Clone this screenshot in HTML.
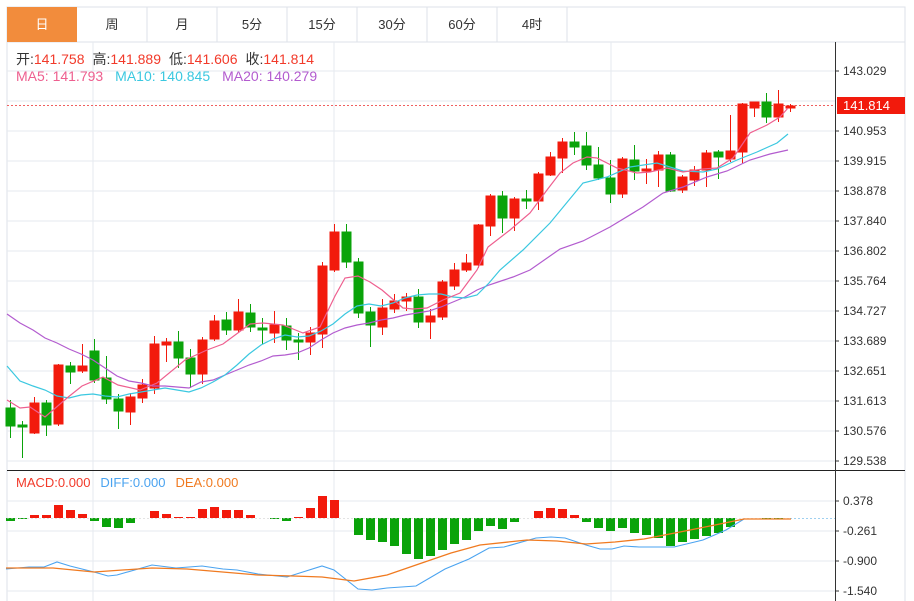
<!DOCTYPE html>
<html><head><meta charset="utf-8"><style>
body{margin:0;background:#fff;width:914px;height:601px;overflow:hidden;font-family:"Liberation Sans","Noto Sans CJK SC",sans-serif}
svg{position:absolute;left:0;top:0}
text{font-family:"Liberation Sans","Noto Sans CJK SC",sans-serif;font-size:12px}
</style></head><body>
<svg width="914" height="601" viewBox="0 0 914 601">
<rect x="7" y="7" width="898" height="35" fill="#fff" stroke="#dde2e8"/>
<rect x="7" y="7" width="70" height="35" fill="#f28c3c"/>
<g stroke="#dde2e8"><line x1="147" y1="7" x2="147" y2="42"/><line x1="217" y1="7" x2="217" y2="42"/><line x1="287" y1="7" x2="287" y2="42"/><line x1="357" y1="7" x2="357" y2="42"/><line x1="427" y1="7" x2="427" y2="42"/><line x1="497" y1="7" x2="497" y2="42"/><line x1="567" y1="7" x2="567" y2="42"/></g>
<g text-anchor="middle" style="font-size:13px" fill="#333"><text x="42" y="29" fill="#fff" style="font-size:13px">日</text><text x="112" y="29" style="font-size:13px">周</text><text x="182" y="29" style="font-size:13px">月</text><text x="252" y="29" style="font-size:13px">5分</text><text x="322" y="29" style="font-size:13px">15分</text><text x="392" y="29" style="font-size:13px">30分</text><text x="462" y="29" style="font-size:13px">60分</text><text x="532" y="29" style="font-size:13px">4时</text></g>
<g stroke="#dde2e8"><line x1="7" y1="42" x2="7" y2="601"/><line x1="905" y1="42" x2="905" y2="601"/></g>
<g stroke="#e6eaef">
<line x1="7" y1="71" x2="835" y2="71"/><line x1="7" y1="101" x2="835" y2="101"/><line x1="7" y1="131" x2="835" y2="131"/><line x1="7" y1="161" x2="835" y2="161"/><line x1="7" y1="191" x2="835" y2="191"/><line x1="7" y1="221" x2="835" y2="221"/><line x1="7" y1="251" x2="835" y2="251"/><line x1="7" y1="281" x2="835" y2="281"/><line x1="7" y1="311" x2="835" y2="311"/><line x1="7" y1="341" x2="835" y2="341"/><line x1="7" y1="371" x2="835" y2="371"/><line x1="7" y1="401" x2="835" y2="401"/><line x1="7" y1="431" x2="835" y2="431"/><line x1="7" y1="461" x2="835" y2="461"/>
<line x1="93" y1="42" x2="93" y2="601"/><line x1="334" y1="42" x2="334" y2="601"/><line x1="611" y1="42" x2="611" y2="601"/>
<line x1="7" y1="501" x2="835" y2="501"/><line x1="7" y1="531" x2="835" y2="531"/><line x1="7" y1="561" x2="835" y2="561"/><line x1="7" y1="591" x2="835" y2="591"/>
</g>
<line x1="7" y1="470.5" x2="905" y2="470.5" stroke="#222"/>
<line x1="835.5" y1="42" x2="835.5" y2="601" stroke="#333"/>
<g fill="#333">
<text x="843" y="75">143.029</text><text x="843" y="135">140.953</text><text x="843" y="165">139.915</text><text x="843" y="195">138.878</text><text x="843" y="225">137.840</text><text x="843" y="255">136.802</text><text x="843" y="285">135.764</text><text x="843" y="315">134.727</text><text x="843" y="345">133.689</text><text x="843" y="375">132.651</text><text x="843" y="405">131.613</text><text x="843" y="435">130.576</text><text x="843" y="465">129.538</text>
<text x="843" y="505">0.378</text><text x="843" y="535">-0.261</text><text x="843" y="565">-0.900</text><text x="843" y="595">-1.540</text>
</g>
<g stroke="#333"><line x1="835" y1="71" x2="839" y2="71"/><line x1="835" y1="131" x2="839" y2="131"/><line x1="835" y1="161" x2="839" y2="161"/><line x1="835" y1="191" x2="839" y2="191"/><line x1="835" y1="221" x2="839" y2="221"/><line x1="835" y1="251" x2="839" y2="251"/><line x1="835" y1="281" x2="839" y2="281"/><line x1="835" y1="311" x2="839" y2="311"/><line x1="835" y1="341" x2="839" y2="341"/><line x1="835" y1="371" x2="839" y2="371"/><line x1="835" y1="401" x2="839" y2="401"/><line x1="835" y1="431" x2="839" y2="431"/><line x1="835" y1="461" x2="839" y2="461"/><line x1="835" y1="501" x2="839" y2="501"/><line x1="835" y1="531" x2="839" y2="531"/><line x1="835" y1="561" x2="839" y2="561"/><line x1="835" y1="591" x2="839" y2="591"/></g>
<line x1="7" y1="105.5" x2="835" y2="105.5" stroke="#f06060" stroke-dasharray="2,2"/>
<rect x="837" y="97" width="68" height="17" fill="#f21a0c"/>
<text x="843" y="110" fill="#fff" style="font-size:13px">141.814</text>
<text x="16" y="64" fill="#333" style="font-size:14px">开:<tspan fill="#f23a2a">141.758</tspan><tspan fill="#333" dx="8">高:</tspan><tspan fill="#f23a2a">141.889</tspan><tspan fill="#333" dx="8">低:</tspan><tspan fill="#f23a2a">141.606</tspan><tspan fill="#333" dx="8">收:</tspan><tspan fill="#f23a2a">141.814</tspan></text>
<text x="16" y="81" fill="#ee5f8f" style="font-size:14px">MA5: 141.793<tspan fill="#3bc8e0" dx="12">MA10: 140.845</tspan><tspan fill="#b35ccf" dx="12">MA20: 140.279</tspan></text>
<text x="16" y="487" fill="#f23a2a" style="font-size:13px">MACD:0.000<tspan fill="#4aa3f0" dx="10">DIFF:0.000</tspan><tspan fill="#f07a20" dx="10">DEA:0.000</tspan></text>
<g stroke-width="1">
<g stroke="#0aa30a" fill="#0aa30a">
<line x1="10.5" y1="400" x2="10.5" y2="438"/><rect x="6" y="408" width="9" height="18"/>
<line x1="22.5" y1="421" x2="22.5" y2="458"/><rect x="18" y="425" width="9" height="2"/>
<line x1="46.5" y1="400" x2="46.5" y2="436"/><rect x="42" y="403" width="9" height="22"/>
<line x1="70.5" y1="362" x2="70.5" y2="384"/><rect x="66" y="366" width="9" height="6"/>
<line x1="94.5" y1="339" x2="94.5" y2="383"/><rect x="90" y="351" width="9" height="29"/>
<line x1="106.5" y1="356" x2="106.5" y2="404"/><rect x="102" y="378" width="9" height="21"/>
<line x1="118.5" y1="394" x2="118.5" y2="429"/><rect x="114" y="399" width="9" height="12"/>
<line x1="178.5" y1="331" x2="178.5" y2="368"/><rect x="174" y="342" width="9" height="16"/>
<line x1="190.5" y1="349" x2="190.5" y2="388"/><rect x="186" y="358" width="9" height="16"/>
<line x1="226.5" y1="312" x2="226.5" y2="335"/><rect x="222" y="320" width="9" height="10"/>
<line x1="250.5" y1="304" x2="250.5" y2="332"/><rect x="246" y="313" width="9" height="14"/>
<line x1="262.5" y1="318" x2="262.5" y2="344"/><rect x="258" y="328" width="9" height="2"/>
<line x1="286.5" y1="318" x2="286.5" y2="350"/><rect x="282" y="326" width="9" height="14"/>
<line x1="298.5" y1="333" x2="298.5" y2="360"/><rect x="294" y="340" width="9" height="2"/>
<line x1="346.5" y1="224" x2="346.5" y2="268"/><rect x="342" y="232" width="9" height="30"/>
<line x1="358.5" y1="258" x2="358.5" y2="318"/><rect x="354" y="262" width="9" height="51"/>
<line x1="370.5" y1="307" x2="370.5" y2="347"/><rect x="366" y="312" width="9" height="13"/>
<line x1="418.5" y1="289" x2="418.5" y2="328"/><rect x="414" y="297" width="9" height="25"/>
<line x1="502.5" y1="191" x2="502.5" y2="233"/><rect x="498" y="196" width="9" height="22"/>
<line x1="526.5" y1="190" x2="526.5" y2="209"/><rect x="522" y="199" width="9" height="2"/>
<line x1="574.5" y1="132" x2="574.5" y2="155"/><rect x="570" y="142" width="9" height="5"/>
<line x1="586.5" y1="132" x2="586.5" y2="170"/><rect x="582" y="146" width="9" height="19"/>
<line x1="598.5" y1="147" x2="598.5" y2="180"/><rect x="594" y="165" width="9" height="13"/>
<line x1="610.5" y1="160" x2="610.5" y2="203"/><rect x="606" y="178" width="9" height="16"/>
<line x1="634.5" y1="145" x2="634.5" y2="180"/><rect x="630" y="160" width="9" height="11"/>
<line x1="670.5" y1="152" x2="670.5" y2="192"/><rect x="666" y="155" width="9" height="36"/>
<line x1="718.5" y1="150" x2="718.5" y2="179"/><rect x="714" y="152" width="9" height="5"/>
<line x1="766.5" y1="93" x2="766.5" y2="123"/><rect x="762" y="102" width="9" height="15"/>
</g>
<g stroke="#f21a0c" fill="#f21a0c">
<line x1="34.5" y1="397" x2="34.5" y2="434"/><rect x="30" y="403" width="9" height="30"/>
<line x1="58.5" y1="364" x2="58.5" y2="426"/><rect x="54" y="365" width="9" height="59"/>
<line x1="82.5" y1="344" x2="82.5" y2="373"/><rect x="78" y="366" width="9" height="5"/>
<line x1="130.5" y1="393" x2="130.5" y2="425"/><rect x="126" y="397" width="9" height="15"/>
<line x1="142.5" y1="379" x2="142.5" y2="403"/><rect x="138" y="385" width="9" height="13"/>
<line x1="154.5" y1="336" x2="154.5" y2="394"/><rect x="150" y="344" width="9" height="44"/>
<line x1="166.5" y1="338" x2="166.5" y2="362"/><rect x="162" y="342" width="9" height="3"/>
<line x1="202.5" y1="337" x2="202.5" y2="384"/><rect x="198" y="340" width="9" height="34"/>
<line x1="214.5" y1="315" x2="214.5" y2="341"/><rect x="210" y="321" width="9" height="18"/>
<line x1="238.5" y1="299" x2="238.5" y2="333"/><rect x="234" y="312" width="9" height="18"/>
<line x1="274.5" y1="311" x2="274.5" y2="343"/><rect x="270" y="325" width="9" height="8"/>
<line x1="310.5" y1="327" x2="310.5" y2="355"/><rect x="306" y="333" width="9" height="9"/>
<line x1="322.5" y1="262" x2="322.5" y2="348"/><rect x="318" y="266" width="9" height="68"/>
<line x1="334.5" y1="224" x2="334.5" y2="272"/><rect x="330" y="232" width="9" height="38"/>
<line x1="382.5" y1="299" x2="382.5" y2="335"/><rect x="378" y="308" width="9" height="19"/>
<line x1="394.5" y1="294" x2="394.5" y2="313"/><rect x="390" y="301" width="9" height="8"/>
<line x1="406.5" y1="293" x2="406.5" y2="311"/><rect x="402" y="297" width="9" height="4"/>
<line x1="430.5" y1="309" x2="430.5" y2="339"/><rect x="426" y="316" width="9" height="6"/>
<line x1="442.5" y1="280" x2="442.5" y2="320"/><rect x="438" y="282" width="9" height="35"/>
<line x1="454.5" y1="263" x2="454.5" y2="290"/><rect x="450" y="270" width="9" height="16"/>
<line x1="466.5" y1="254" x2="466.5" y2="272"/><rect x="462" y="263" width="9" height="7"/>
<line x1="478.5" y1="224" x2="478.5" y2="268"/><rect x="474" y="225" width="9" height="40"/>
<line x1="490.5" y1="194" x2="490.5" y2="236"/><rect x="486" y="196" width="9" height="30"/>
<line x1="514.5" y1="197" x2="514.5" y2="231"/><rect x="510" y="199" width="9" height="19"/>
<line x1="538.5" y1="172" x2="538.5" y2="210"/><rect x="534" y="174" width="9" height="27"/>
<line x1="550.5" y1="152" x2="550.5" y2="176"/><rect x="546" y="157" width="9" height="18"/>
<line x1="562.5" y1="138" x2="562.5" y2="173"/><rect x="558" y="142" width="9" height="16"/>
<line x1="622.5" y1="157" x2="622.5" y2="198"/><rect x="618" y="159" width="9" height="35"/>
<line x1="646.5" y1="159" x2="646.5" y2="184"/><rect x="642" y="169" width="9" height="2"/>
<line x1="658.5" y1="151" x2="658.5" y2="187"/><rect x="654" y="155" width="9" height="15"/>
<line x1="682.5" y1="175" x2="682.5" y2="193"/><rect x="678" y="177" width="9" height="13"/>
<line x1="694.5" y1="166" x2="694.5" y2="186"/><rect x="690" y="170" width="9" height="10"/>
<line x1="706.5" y1="150" x2="706.5" y2="187"/><rect x="702" y="153" width="9" height="17"/>
<line x1="730.5" y1="115" x2="730.5" y2="162"/><rect x="726" y="151" width="9" height="8"/>
<line x1="742.5" y1="103" x2="742.5" y2="163"/><rect x="738" y="104" width="9" height="48"/>
<line x1="754.5" y1="102" x2="754.5" y2="117"/><rect x="750" y="102" width="9" height="6"/>
<line x1="778.5" y1="90" x2="778.5" y2="122"/><rect x="774" y="104" width="9" height="13"/>
<line x1="790.5" y1="104" x2="790.5" y2="112"/><rect x="786" y="106" width="9" height="2"/>
</g></g>
<polyline fill="none" stroke="#b35ccf" stroke-width="1.2" points="7,314 20,323 33,330 45,338 57,343 69,349 81,354 93,360 105,368 117,376 129,381 141,383 153,386 165,386 177,387 189,388 201,382 213,380 225,375 237,370 249,365 261,361 273,356 285,355 297,353 309,348 321,340 333,333 345,328 357,325 369,323 381,320 393,318 405,315 417,313 429,311 441,307 453,302 465,297 477,290 489,285 501,281 513,277 530,270 560,249 583,241 610,227 643,207 663,193 683,187 707,177 727,171 750,160 770,154 788,150"/>
<polyline fill="none" stroke="#3bc8e0" stroke-width="1.2" points="7,366 20,381 33,386 45,390 57,396 69,398 81,395 93,394 105,396 117,397 129,394 141,392 153,390 165,388 177,390 189,392 201,388 213,382 225,375 237,365 249,354 261,345 273,339 285,335 297,337 309,336 321,331 333,324 345,314 357,306 369,304 381,306 393,303 405,298 417,295 429,294 441,294 453,297 465,298 477,295 489,283 500,270 523,250 550,223 583,183 607,177 630,167 657,163 683,171 703,172 717,169 737,160 757,152 777,143 788,134"/>
<polyline fill="none" stroke="#ee5f8f" stroke-width="1.2" points="7,400 20,408 30,407 45,417 67,398 82,386 103,377 118,385 140,390 157,383 185,360 207,350 223,344 250,324 263,323 283,325 303,333 320,327 335,296 345,278 358,276 370,282 382,290 403,308 413,309 427,308 443,300 460,293 477,270 488,247 510,230 530,213 547,190 560,173 573,163 587,157 597,158 617,168 637,173 650,172 667,168 683,172 703,169 717,168 733,158 750,133 767,125 780,117 788,108"/>
<line x1="790" y1="518.5" x2="835" y2="518.5" stroke="#9fd0f0" stroke-dasharray="2,2"/>
<g fill="#f21a0c">
<rect x="30" y="515" width="9" height="3"/><rect x="42" y="515" width="9" height="3"/><rect x="54" y="505" width="9" height="13"/><rect x="66" y="510" width="9" height="8"/><rect x="78" y="514" width="9" height="4"/>
<rect x="150" y="511" width="9" height="7"/><rect x="162" y="514" width="9" height="4"/><rect x="174" y="517" width="9" height="1"/><rect x="186" y="517" width="9" height="1"/><rect x="198" y="509" width="9" height="9"/><rect x="210" y="507" width="9" height="11"/><rect x="222" y="510" width="9" height="8"/><rect x="234" y="510" width="9" height="8"/><rect x="246" y="515" width="9" height="3"/>
<rect x="294" y="517" width="9" height="1"/><rect x="306" y="508" width="9" height="10"/><rect x="318" y="496" width="9" height="22"/><rect x="330" y="500" width="9" height="18"/>
<rect x="534" y="511" width="9" height="7"/><rect x="546" y="508" width="9" height="10"/><rect x="558" y="509" width="9" height="9"/><rect x="570" y="515" width="9" height="3"/>
</g>
<g fill="#0aa30a">
<rect x="6" y="518" width="9" height="3"/><rect x="18" y="518" width="9" height="1"/><rect x="90" y="518" width="9" height="3"/><rect x="102" y="518" width="9" height="9"/><rect x="114" y="518" width="9" height="10"/><rect x="126" y="518" width="9" height="5"/>
<rect x="270" y="518" width="9" height="1"/><rect x="282" y="518" width="9" height="3"/>
<rect x="354" y="518" width="9" height="17"/><rect x="366" y="518" width="9" height="22"/><rect x="378" y="518" width="9" height="24"/><rect x="390" y="518" width="9" height="28"/><rect x="402" y="518" width="9" height="36"/><rect x="414" y="518" width="9" height="41"/><rect x="426" y="518" width="9" height="38"/><rect x="438" y="518" width="9" height="32"/><rect x="450" y="518" width="9" height="26"/><rect x="462" y="518" width="9" height="22"/><rect x="474" y="518" width="9" height="13"/><rect x="486" y="518" width="9" height="8"/><rect x="498" y="518" width="9" height="11"/><rect x="510" y="518" width="9" height="4"/>
<rect x="582" y="518" width="9" height="4"/><rect x="594" y="518" width="9" height="10"/><rect x="606" y="518" width="9" height="13"/><rect x="618" y="518" width="9" height="10"/><rect x="630" y="518" width="9" height="15"/><rect x="642" y="518" width="9" height="17"/><rect x="654" y="518" width="9" height="20"/><rect x="666" y="518" width="9" height="28"/><rect x="678" y="518" width="9" height="24"/><rect x="690" y="518" width="9" height="21"/><rect x="702" y="518" width="9" height="18"/><rect x="714" y="518" width="9" height="15"/><rect x="726" y="518" width="9" height="9"/><rect x="762" y="518" width="9" height="1"/><rect x="774" y="518" width="9" height="1"/>
</g>
<line x1="7" y1="518.5" x2="790" y2="518.5" stroke="#c8c8c8" stroke-width="0.6" stroke-dasharray="2,2"/>
<polyline fill="none" stroke="#4aa3f0" stroke-width="1.1" points="6,569 29,567 44,567 57,562 70,566 94,572 108,576 117,575 152,565 176,568 202,566 223,569 237,570 258,574 287,577 322,566 334,570 358,589 372,590 387,588 416,586 445,569 469,559 489,548 504,547 536,538 551,537 565,538 586,545 600,549 612,549 624,546 639,547 668,547 674,547 703,540 726,530 744,519 791,519"/>
<polyline fill="none" stroke="#f07a20" stroke-width="1.3" points="6,568 53,568 94,572 152,568 187,569 258,575 293,576 322,577 354,581 387,575 416,565 451,553 480,545 527,540 557,541 586,544 615,542 644,539 680,532 715,525 744,519 791,519"/>
</svg>
</body></html>
